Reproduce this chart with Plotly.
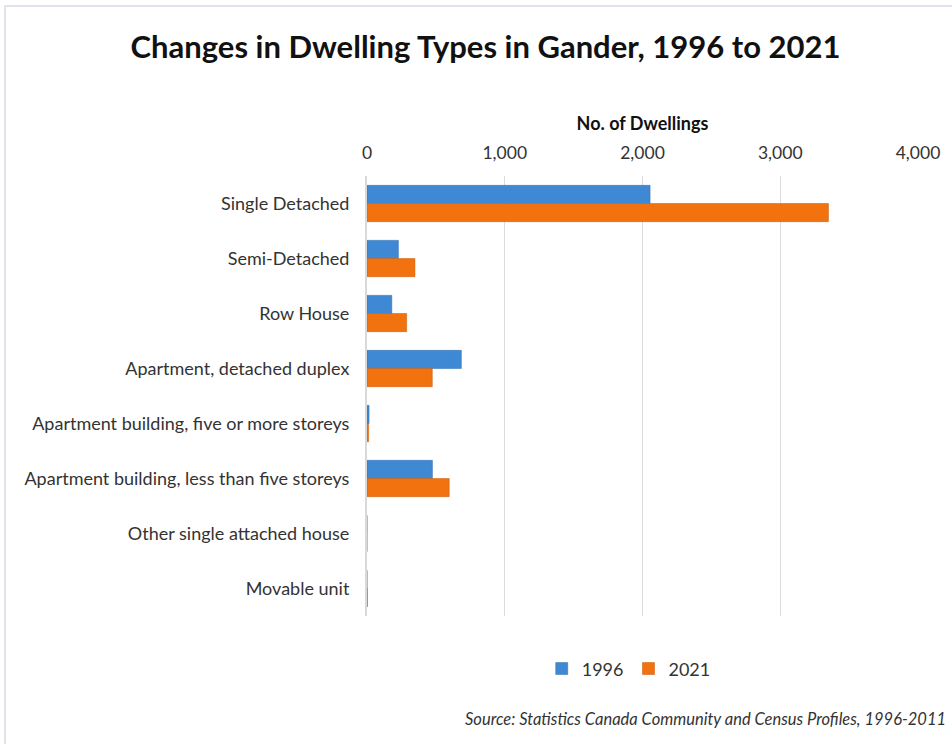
import plotly.graph_objects as go

categories = [
    "Single Detached",
    "Semi-Detached",
    "Row House",
    "Apartment, detached duplex",
    "Apartment building, five or more storeys",
    "Apartment building, less than five storeys",
    "Other single attached house",
    "Movable unit",
]
dwellings_1996 = [2055, 228, 180, 685, 15, 475, 0, 0]
dwellings_2021 = [3350, 348, 288, 474, 12, 597, 0, 3]
tick_values = [0, 1000, 2000, 3000, 4000]
tick_labels = ["0", "1,000", "2,000", "3,000", "4,000"]

FONT = "Lato, Carlito, 'Open Sans', sans-serif"

fig = go.Figure()
fig.add_trace(go.Bar(
    y=categories, x=dwellings_1996, name="1996", orientation="h",
    marker=dict(color="#3F88D3", line=dict(color="#2F6FB0", width=0.5)),
))
fig.add_trace(go.Bar(
    y=categories, x=dwellings_2021, name="2021", orientation="h",
    marker=dict(color="#F2720F", line=dict(color="#C9580A", width=0.5)),
))

fig.update_layout(
    width=952, height=744,
    margin=dict(l=367, r=34, t=176, b=128),
    paper_bgcolor="white", plot_bgcolor="white",
    barmode="group", bargap=0.34, bargroupgap=0.0,
    font=dict(family=FONT, size=18, color="#333333"),
    title=dict(
        text="<b>Changes in Dwelling Types in Gander, 1996 to 2021</b>",
        x=0.51, xanchor="center", y=0.937, yanchor="middle",
        font=dict(family=FONT, size=31, color="#111111"),
    ),
    xaxis=dict(
        side="top", range=[0, 4000], tickvals=tick_values, ticktext=tick_labels,
        showgrid=True, gridcolor="#DCDCDC", gridwidth=1, zeroline=False,
        showline=False, ticks="", ticklabelstandoff=13,
        tickfont=dict(size=17.5, color="#333333"),
        title=dict(text="<b>No. of Dwellings</b>", font=dict(size=18, color="#111111"),
                   standoff=6),
    ),
    yaxis=dict(
        categoryorder="array", categoryarray=categories, autorange="reversed",
        showline=True, linecolor="#D9D9D9", linewidth=2, showgrid=False,
        ticks="", ticklabelstandoff=12, tickfont=dict(size=18, color="#333333"),
    ),
    legend=dict(
        orientation="h", x=0.475, xanchor="center", y=-0.12, yanchor="middle",
        font=dict(size=18, color="#333333"), itemwidth=30, traceorder="normal",
        tracegroupgap=0,
    ),
    showlegend=True,
)

# page frame
fig.add_shape(type="rect", xref="paper", yref="paper",
              x0=-367 / 551 + 5 / 551, x1=1.2, y0=-128 / 440 - 0.1, y1=1 + 170 / 440,
              line=dict(color="#D6DCE4", width=1.5), fillcolor="rgba(0,0,0,0)", layer="below")

fig.add_annotation(
    text="<i>Source: Statistics Canada Community and Census Profiles, 1996-2011</i>",
    xref="paper", yref="paper", x=1 + 30 / 551, xanchor="right",
    y=-103 / 440, yanchor="middle", showarrow=False,
    font=dict(family=FONT, size=16.5, color="#333333"),
)

fig.write_html("out.html")
